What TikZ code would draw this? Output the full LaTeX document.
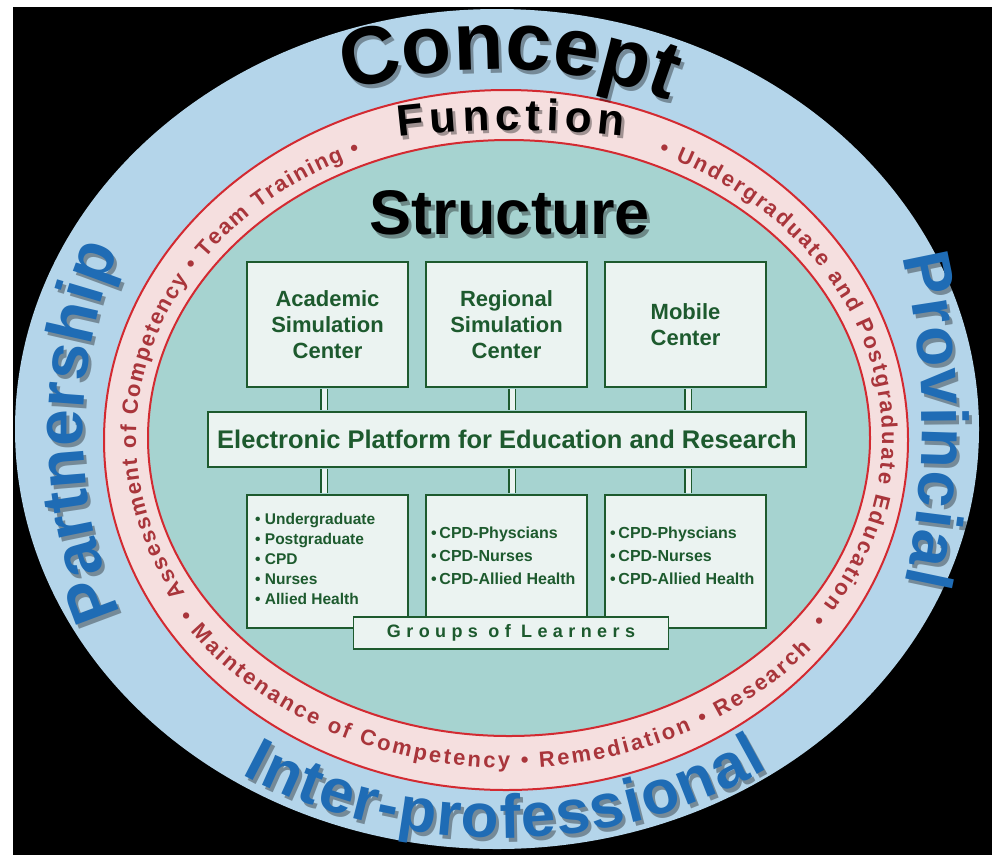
\documentclass[tikz,border=0pt]{standalone}
\usepackage{fontspec}
\setmainfont{Liberation Sans}
\newfontfamily\spacedsans[LetterSpace=30]{Liberation Sans}
\usetikzlibrary{decorations.text,calc}

\definecolor{skyband}{HTML}{B4D5EA}
\definecolor{pinkband}{HTML}{F5DFDF}
\definecolor{ringred}{HTML}{D32A31}
\definecolor{ringtext}{HTML}{A9353B}
\definecolor{tealcore}{HTML}{A6D3D0}
\definecolor{boxfill}{HTML}{EBF3F1}
\definecolor{boxgreen}{HTML}{1D5A2E}
\definecolor{bluetext}{HTML}{1F6CB5}

% lettering for the curved bands (size, then colour)
\newcommand\conceptink{\bfseries\fontsize{82}{82}\selectfont\color{black}}
\newcommand\functionink{\bfseries\fontsize{44}{44}\selectfont\color{black}}
\newcommand\bandink{\bfseries\fontsize{66}{66}\selectfont\color{bluetext}}
\newcommand\bandshade{\bfseries\fontsize{66}{66}\selectfont\color{black}}
\newcommand\lowink{\bfseries\fontsize{62}{62}\selectfont\color{bluetext}}
\newcommand\lowshade{\bfseries\fontsize{62}{62}\selectfont\color{black}}
\newcommand\ringink{\bfseries\fontsize{22}{22}\selectfont\color{ringtext}}
% lettering for the boxes
\newcommand\structfont{\bfseries\fontsize{63}{63}\selectfont}
\newcommand\centrefont{\bfseries\fontsize{22}{26}\selectfont}
\newcommand\platformfont{\bfseries\fontsize{25.5}{30}\selectfont}
\newcommand\rosterfont{\bfseries\fontsize{15.5}{20}\selectfont}
\newcommand\cpdfont{\bfseries\fontsize{16}{23}\selectfont}
\newcommand\learnerfont{\spacedsans\bfseries\fontsize{18}{22}\selectfont}

% text set along an elliptical arc, spread to fill it:
% #1 centre, #2 x radius, #3 y radius, #4 start angle, #5 end angle, #6 text
\newcommand\arcwords[6]{%
  \path[decorate, decoration={text along path, text align=fit to path, text={#6}}]
    ($(#1)+(#4:#2pt and #3pt)$) arc[start angle=#4, end angle=#5, x radius=#2pt, y radius=#3pt];}
% the same, with natural spacing, centred on the arc
\newcommand\arcwordsmid[6]{%
  \path[decorate, decoration={text along path, text align=center, text={#6}}]
    ($(#1)+(#4:#2pt and #3pt)$) arc[start angle=#4, end angle=#5, x radius=#2pt, y radius=#3pt];}

\begin{document}
\begin{tikzpicture}[x=1pt, y=1pt,
  panel/.style={draw=boxgreen, line width=1.8pt, fill=boxfill, inner sep=0pt, text=boxgreen},
  centre/.style={panel, minimum width=161pt, minimum height=125pt, align=center, font=\centrefont},
  cohort/.style={panel, minimum width=161pt, minimum height=133pt},
  roster/.style={anchor=north west, inner sep=0pt, align=left, text=boxgreen},
  link/.style={draw=boxgreen, line width=1.6pt, double=boxfill, double distance=5pt,
               shorten <=1pt, shorten >=1pt},
  shade/.style={opacity=0.35}]

\useasboundingbox (0,0) rectangle (992,-855);
\fill[white] (0,0) rectangle (992,-855);
\fill[black] (13,-7) rectangle (992,-855);

% the three nested rings
\fill[skyband] (497,-429) ellipse [x radius=482pt, y radius=420pt];
\filldraw[fill=pinkband, draw=ringred, line width=2pt]
  (506,-440) ellipse [x radius=402pt, y radius=350pt];
\filldraw[fill=tealcore, draw=ringred, line width=2pt]
  (509,-438) ellipse [x radius=361pt, y radius=298pt];

% outer band: Concept, Partnership, Provincial, Inter-professional
\begin{scope}[shift={(3,-4)}, shade]
  \arcwordsmid{495,-429}{424}{360}{117}{59}{|\conceptink|Concept}
  \arcwords{497,-430}{414}{440}{204.6}{155.9}{|\bandshade|Partnership}
  \arcwords{497,-425}{425}{560}{17.5}{-16.4}{|\bandshade|Provincial}
  \arcwords{500,-418}{487}{420}{238}{303.5}{|\lowshade|Inter-professional}
\end{scope}
\arcwordsmid{495,-429}{424}{360}{117}{59}{|\conceptink|Concept}
\arcwords{497,-430}{414}{440}{204.6}{155.9}{|\bandink|Partnership}
\arcwords{497,-425}{425}{560}{17.5}{-16.4}{|\bandink|Provincial}
\arcwords{500,-418}{487}{420}{238}{303.5}{|\lowink|Inter-professional}

% middle band: Function and the activities
\begin{scope}[shift={(2.5,-3.5)}, shade]
  \arcwords{515,-490}{600}{360}{101.2}{79.6}{|\functionink|Function}
\end{scope}
\arcwords{515,-490}{600}{360}{101.2}{79.6}{|\functionink|Function}
\arcwords{509,-438}{373}{310}{210}{113.5}{|\ringink|Assessment of Competency • Team Training •}
\arcwords{509,-438}{373}{310}{66.4}{-35.7}{|\ringink|• Undergraduate and Postgraduate Education •}
\arcwords{509,-438}{394}{330}{212.9}{320.3}{|\ringink|• Maintenance of Competency • Remediation • Research}

% core: Structure
\node[font=\structfont, shade] (structureshade) at (513,-217) {Structure};
\node[font=\structfont] (structure) at (510,-213) {Structure};

\node[centre] (academic) at (327.5,-324.5) {Academic\\Simulation\\Center};
\node[centre] (regional) at (506.5,-324.5) {Regional\\Simulation\\Center};
\node[centre] (mobile)   at (685.5,-324.5) {Mobile\\Center};

\node[panel, minimum width=598pt, minimum height=55pt, font=\platformfont]
  (platform) at (507,-439.5) {Electronic Platform for Education and Research};

\node[cohort] (cohortA) at (327.5,-561.5) {};
\node[cohort] (cohortB) at (506.5,-561.5) {};
\node[cohort] (cohortC) at (685.5,-561.5) {};

\node[roster, font=\rosterfont] (rosterA) at (255,-513.5)
  {• Undergraduate\\• Postgraduate\\• CPD\\• Nurses\\• Allied Health};
\node[roster, font=\cpdfont] (rosterB) at (431,-526.5)
  {•\,CPD-Physcians\\•\,CPD-Nurses\\•\,CPD-Allied Health};
\node[roster, font=\cpdfont] (rosterC) at (610,-526.5)
  {•\,CPD-Physcians\\•\,CPD-Nurses\\•\,CPD-Allied Health};

\node[panel, minimum width=315pt, minimum height=32pt, font=\learnerfont]
  (learners) at (511,-633) {Groups of Learners};

% connectors between the centres, the platform and the learner groups
\draw[link] ([xshift=-3.5pt]academic.south) -- ([xshift=-3.5pt]academic.south |- platform.north);
\draw[link] ([xshift=5.5pt]regional.south) -- ([xshift=5.5pt]regional.south |- platform.north);
\draw[link] ([xshift=2.5pt]mobile.south) -- ([xshift=2.5pt]mobile.south |- platform.north);
\draw[link] ([xshift=-3.5pt]cohortA.north |- platform.south) -- ([xshift=-3.5pt]cohortA.north);
\draw[link] ([xshift=5.5pt]cohortB.north |- platform.south) -- ([xshift=5.5pt]cohortB.north);
\draw[link] ([xshift=2.5pt]cohortC.north |- platform.south) -- ([xshift=2.5pt]cohortC.north);

\end{tikzpicture}
\end{document}
